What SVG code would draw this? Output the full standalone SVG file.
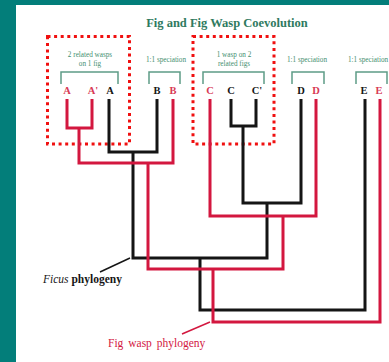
<svg xmlns="http://www.w3.org/2000/svg" width="389" height="362" viewBox="0 0 389 362">
<defs>
<style>
.bg{fill:#037e7a}
.paper{fill:#ffffff}
.title{font-family:"Liberation Serif",serif;font-weight:bold;font-size:12.5px;fill:#2f7a60}
.note{font-family:"Liberation Serif",serif;font-size:7.2px;fill:#3f8f70;text-anchor:middle}
.br{fill:none;stroke:#5d9c86;stroke-width:1.5}
.lb{font-family:"Liberation Serif",serif;font-weight:bold;font-size:10.5px;text-anchor:middle}
.lk{fill:#151515}
.lr{fill:#d83a55}
.fig{fill:none;stroke:#151515;stroke-width:3;stroke-linejoin:miter}
.wasp{fill:none;stroke:#d3173f;stroke-width:3;stroke-linejoin:miter}
.dot{fill:none;stroke:#f01010;stroke-width:3;stroke-dasharray:3 3.6}
.cap{font-family:"Liberation Serif",serif;font-size:11.5px}
</style>
</defs>
<rect class="bg" x="0" y="0" width="389" height="362"/>
<rect class="paper" x="16" y="5" width="373" height="357"/>
<text class="title" x="227" y="27" text-anchor="middle">Fig and Fig Wasp Coevolution</text>

<g id="group-A">
<rect class="dot" x="47.5" y="36.5" width="82" height="107.5"/>
<text class="note" x="90" y="57">2 related wasps</text>
<text class="note" x="90" y="66">on 1 fig</text>
<path class="br" d="M61 84V72H118V84"/>
<text class="lb lr" x="67" y="94">A</text>
<text class="lb lr" x="93" y="94">A'</text>
<text class="lb lk" x="110" y="94">A</text>
</g>
<g id="group-B">
<text class="note" x="166" y="62">1:1 speciation</text>
<path class="br" d="M149 84V72H180V84"/>
<text class="lb lk" x="157" y="94">B</text>
<text class="lb lr" x="173" y="94">B</text>
</g>
<g id="group-C">
<rect class="dot" x="193" y="36.5" width="81" height="107.5"/>
<text class="note" x="234" y="57">1 wasp on 2</text>
<text class="note" x="234" y="66">related figs</text>
<path class="br" d="M203 84V72H264V84"/>
<text class="lb lr" x="210" y="94">C</text>
<text class="lb lk" x="231" y="94">C</text>
<text class="lb lk" x="257" y="94">C'</text>
</g>
<g id="group-D">
<text class="note" x="307" y="62">1:1 speciation</text>
<path class="br" d="M292 84V72H324V84"/>
<text class="lb lk" x="301" y="94">D</text>
<text class="lb lr" x="316" y="94">D</text>
</g>
<g id="group-E">
<text class="note" x="348" y="62" style="text-anchor:start">1:1 speciation</text>
<path class="br" d="M356 84V72H387V84"/>
<text class="lb lk" x="364" y="94">E</text>
<text class="lb lr" x="379" y="94">E</text>
</g>

<g id="connectors">
<g id="ficus-tree">
<path class="fig" d="M109 99V152H157V99"/>
<path class="fig" d="M231 99V126H256V99"/>
<path class="fig" d="M243 126V203H301V99"/>
<path class="fig" d="M133 152V258H267V203"/>
<path class="fig" d="M200 258V310H365V99"/>
</g>
<g id="wasp-tree">
<path class="wasp" d="M67 99V128H92V99"/>
<path class="wasp" d="M79 128V163H173V99"/>
<path class="wasp" d="M210 99V216H316V99"/>
<path class="wasp" d="M148 163V269H283V216"/>
<path class="wasp" d="M213 269V322H380V99"/>
</g>
<line x1="100" y1="272" x2="130" y2="258" stroke="#151515" stroke-width="1.5"/>
<line x1="182" y1="334" x2="210" y2="322" stroke="#d3173f" stroke-width="1.5"/>
</g>

<g id="label-ficus">
<text class="cap" x="43" y="283" fill="#151515"><tspan font-style="italic">Ficus</tspan> <tspan font-weight="bold">phylogeny</tspan></text>
</g>
<g id="label-wasp">
<text class="cap" x="108" y="347" fill="#d3173f" word-spacing="2">Fig wasp phylogeny</text>
</g>
</svg>
